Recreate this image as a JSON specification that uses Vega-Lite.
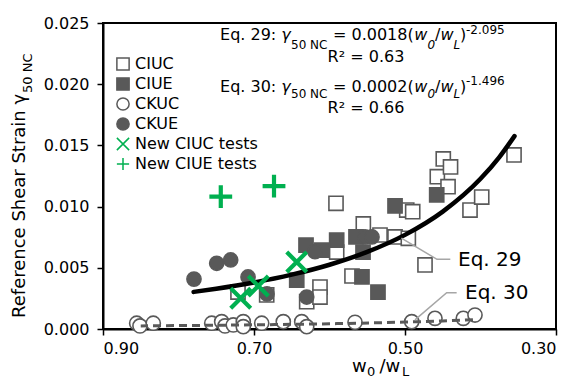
{
  "$schema": "https://vega.github.io/schema/vega-lite/v6.json",
  "width": 453,
  "height": 306,
  "autosize": {"type": "none"},
  "padding": {"left": 103, "top": 23, "right": 20, "bottom": 52},
  "background": "white",
  "config": {
    "font": "DejaVu Sans",
    "view": {"stroke": "black", "strokeWidth": 2},
    "axis": {
      "grid": false,
      "domainColor": "black",
      "domainWidth": 2,
      "tickColor": "black",
      "tickWidth": 1.5,
      "tickSize": 6,
      "labelFont": "DejaVu Sans",
      "labelFontSize": 16,
      "labelColor": "black",
      "title": null
    },
    "legend": {
      "labelFont": "DejaVu Sans",
      "labelFontSize": 16,
      "labelColor": "black"
    }
  },
  "datasets": {
    "pts": [
      {"series": "CIUC", "x": 0.7212, "y": 0.00302},
      {"series": "CIUC", "x": 0.6832, "y": 0.00278},
      {"series": "CIUC", "x": 0.6302, "y": 0.00223},
      {"series": "CIUC", "x": 0.6126, "y": 0.00343},
      {"series": "CIUC", "x": 0.6126, "y": 0.00261},
      {"series": "CIUC", "x": 0.5914, "y": 0.01027},
      {"series": "CIUC", "x": 0.5905, "y": 0.00629},
      {"series": "CIUC", "x": 0.5702, "y": 0.00433},
      {"series": "CIUC", "x": 0.5552, "y": 0.00858},
      {"series": "CIUC", "x": 0.5331, "y": 0.00768},
      {"series": "CIUC", "x": 0.5132, "y": 0.00752},
      {"series": "CIUC", "x": 0.4956, "y": 0.00741},
      {"series": "CIUC", "x": 0.4977, "y": 0.00972},
      {"series": "CIUC", "x": 0.4898, "y": 0.00958},
      {"series": "CIUC", "x": 0.4735, "y": 0.00523},
      {"series": "CIUC", "x": 0.4572, "y": 0.01244},
      {"series": "CIUC", "x": 0.4493, "y": 0.01389},
      {"series": "CIUC", "x": 0.4397, "y": 0.01324},
      {"series": "CIUC", "x": 0.443, "y": 0.01163},
      {"series": "CIUC", "x": 0.4139, "y": 0.00972},
      {"series": "CIUC", "x": 0.3984, "y": 0.01078},
      {"series": "CIUC", "x": 0.3556, "y": 0.01422},
      {"series": "CIUE", "x": 0.6434, "y": 0.0040},
      {"series": "CIUE", "x": 0.6311, "y": 0.00686},
      {"series": "CIUE", "x": 0.6103, "y": 0.00645},
      {"series": "CIUE", "x": 0.5905, "y": 0.00727},
      {"series": "CIUE", "x": 0.5649, "y": 0.00752},
      {"series": "CIUE", "x": 0.5556, "y": 0.00629},
      {"series": "CIUE", "x": 0.557, "y": 0.00425},
      {"series": "CIUE", "x": 0.5358, "y": 0.00302},
      {"series": "CIUE", "x": 0.5132, "y": 0.01005},
      {"series": "CIUE", "x": 0.458, "y": 0.01095},
      {"series": "CKUC", "x": 0.8554, "y": 0.00047},
      {"series": "CKUC", "x": 0.851, "y": 0.00025},
      {"series": "CKUC", "x": 0.8334, "y": 0.00047},
      {"series": "CKUC", "x": 0.756, "y": 0.00047},
      {"series": "CKUC", "x": 0.7428, "y": 0.0006},
      {"series": "CKUC", "x": 0.7384, "y": 0.00025},
      {"series": "CKUC", "x": 0.7274, "y": 0.00033},
      {"series": "CKUC", "x": 0.7142, "y": 0.0006},
      {"series": "CKUC", "x": 0.7142, "y": 0.00019},
      {"series": "CKUC", "x": 0.6898, "y": 0.00047},
      {"series": "CKUC", "x": 0.6612, "y": 0.0006},
      {"series": "CKUC", "x": 0.6368, "y": 0.0006},
      {"series": "CKUC", "x": 0.6302, "y": 0.00019},
      {"series": "CKUC", "x": 0.5662, "y": 0.00055},
      {"series": "CKUC", "x": 0.4911, "y": 0.0006},
      {"series": "CKUC", "x": 0.4603, "y": 0.00087},
      {"series": "CKUC", "x": 0.4228, "y": 0.00087},
      {"series": "CKUC", "x": 0.4073, "y": 0.00114},
      {"series": "CKUE", "x": 0.7795, "y": 0.00408},
      {"series": "CKUE", "x": 0.7494, "y": 0.00537},
      {"series": "CKUE", "x": 0.7309, "y": 0.00564},
      {"series": "CKUE", "x": 0.7079, "y": 0.00425},
      {"series": "CKUE", "x": 0.6828, "y": 0.00286},
      {"series": "CKUE", "x": 0.6302, "y": 0.00261},
      {"series": "CKUE", "x": 0.6192, "y": 0.00632},
      {"series": "CKUE", "x": 0.553, "y": 0.00752},
      {"series": "CKUE", "x": 0.5437, "y": 0.00752}
    ],
    "green": [
      {"series": "New CIUC tests", "x": 0.7176, "y": 0.00251},
      {"series": "New CIUC tests", "x": 0.6943, "y": 0.00351},
      {"series": "New CIUC tests", "x": 0.6434, "y": 0.00547},
      {"series": "New CIUE tests", "x": 0.744, "y": 0.01081},
      {"series": "New CIUE tests", "x": 0.6735, "y": 0.01168}
    ],
    "fit29": [
      {"x": 0.78, "y": 0.00303},
      {"x": 0.75, "y": 0.00329},
      {"x": 0.70, "y": 0.0038},
      {"x": 0.65, "y": 0.00444},
      {"x": 0.60, "y": 0.00525},
      {"x": 0.55, "y": 0.0063},
      {"x": 0.50, "y": 0.00769},
      {"x": 0.45, "y": 0.00959},
      {"x": 0.40, "y": 0.01227},
      {"x": 0.375, "y": 0.01405},
      {"x": 0.355, "y": 0.01576}
    ],
    "fit30": [
      {"x": 0.85, "y": 0.000255},
      {"x": 0.80, "y": 0.000279},
      {"x": 0.70, "y": 0.000341},
      {"x": 0.60, "y": 0.000429},
      {"x": 0.50, "y": 0.000564},
      {"x": 0.45, "y": 0.00066},
      {"x": 0.41, "y": 0.00076}
    ],
    "leaders": [
      {"k": "a", "o": 1, "x": 0.5048, "y": 0.00743},
      {"k": "a", "o": 2, "x": 0.4576, "y": 0.00569},
      {"k": "a", "o": 3, "x": 0.44, "y": 0.00569},
      {"k": "b", "o": 1, "x": 0.4868, "y": 0.00074},
      {"k": "b", "o": 2, "x": 0.4448, "y": 0.00297},
      {"k": "b", "o": 3, "x": 0.4316, "y": 0.00297}
    ],
    "mainText": [
      {"x": 0.745, "y": 0.02402, "t": "Eq. 29:"},
      {"x": 0.5954, "y": 0.02402, "t": "= 0.0018("},
      {"x": 0.4603, "y": 0.02402, "t": "/"},
      {"x": 0.4272, "y": 0.02402, "t": ")"},
      {"x": 0.745, "y": 0.01977, "t": "Eq. 30:"},
      {"x": 0.5954, "y": 0.01977, "t": "= 0.0002("},
      {"x": 0.4603, "y": 0.01977, "t": "/"},
      {"x": 0.4272, "y": 0.01977, "t": ")"}
    ],
    "mainItalic": [
      {"x": 0.6638, "y": 0.02402, "t": "γ"},
      {"x": 0.4877, "y": 0.02402, "t": "w"},
      {"x": 0.4531, "y": 0.02402, "t": "w"},
      {"x": 0.6638, "y": 0.01977, "t": "γ"},
      {"x": 0.4877, "y": 0.01977, "t": "w"},
      {"x": 0.4531, "y": 0.01977, "t": "w"}
    ],
    "smallText": [
      {"x": 0.651, "y": 0.0232, "t": "50 NC"},
      {"x": 0.4192, "y": 0.02443, "t": "-2.095"},
      {"x": 0.651, "y": 0.0192, "t": "50 NC"},
      {"x": 0.4192, "y": 0.02026, "t": "-1.496"}
    ],
    "smallItalic": [
      {"x": 0.4703, "y": 0.0232, "t": "0"},
      {"x": 0.4358, "y": 0.0232, "t": "L"},
      {"x": 0.4703, "y": 0.0192, "t": "0"},
      {"x": 0.4358, "y": 0.0192, "t": "L"}
    ],
    "r2": [
      {"x": 0.5517, "y": 0.02222, "t": "R² = 0.63"},
      {"x": 0.5517, "y": 0.01806, "t": "R² = 0.66"}
    ],
    "eqLabels": [
      {"x": 0.4298, "y": 0.00564, "t": "Eq. 29"},
      {"x": 0.4205, "y": 0.00294, "t": "Eq. 30"}
    ],
    "xTitleMain": [
      {"x": 0.5702, "y": -0.0031, "t": "w"},
      {"x": 0.5337, "y": -0.0031, "t": "/w"}
    ],
    "xTitleSub": [
      {"x": 0.5503, "y": -0.00351, "t": "0"},
      {"x": 0.504, "y": -0.00351, "t": "L"}
    ],
    "yTitleMain": [
      {"x": 1.0099, "y": 0.0009, "t": "Reference Shear Strain γ"}
    ],
    "yTitleSub": [
      {"x": 0.9993, "y": 0.01928, "t": "50 NC"}
    ]
  },
  "encoding": {
    "x": {
      "field": "x",
      "type": "quantitative",
      "scale": {"domain": [0.3, 0.9], "reverse": true, "nice": false, "zero": false},
      "axis": {"values": [0.3, 0.5, 0.7, 0.9], "format": ".2f", "labelPadding": 5}
    },
    "y": {
      "field": "y",
      "type": "quantitative",
      "scale": {"domain": [0, 0.025], "nice": false, "zero": false},
      "axis": {"values": [0, 0.005, 0.01, 0.015, 0.02, 0.025], "format": ".3f", "labelPadding": 8}
    }
  },
  "layer": [
    {
      "data": {"name": "pts"},
      "mark": {"type": "point", "opacity": 1, "size": 200, "strokeWidth": 1.6},
      "encoding": {
        "shape": {
          "field": "series", "type": "nominal",
          "scale": {
            "domain": ["CIUC", "CIUE", "CKUC", "CKUE", "New CIUC tests", "New CIUE tests"],
            "range": ["square", "square", "circle", "circle", "M-1,-1L1,1M-1,1L1,-1", "M-1,0L1,0M0,-1L0,1"]
          },
          "legend": {
            "title": null, "orient": "none", "legendX": 12, "legendY": 33,
            "symbolSize": 150, "rowPadding": 0, "labelOffset": 4, "padding": 0,
            "encode": {"symbols": {"update": {"strokeWidth": {"signal": "datum.value === 'New CIUC tests' || datum.value === 'New CIUE tests' ? 3.5 : 1.5"}}}}
          }
        },
        "fill": {
          "field": "series", "type": "nominal",
          "scale": {
            "domain": ["CIUC", "CIUE", "CKUC", "CKUE", "New CIUC tests", "New CIUE tests"],
            "range": ["white", "#595959", "white", "#595959", "transparent", "transparent"]
          },
          "legend": {
            "title": null, "orient": "none", "legendX": 12, "legendY": 33,
            "symbolSize": 150, "rowPadding": 0, "labelOffset": 4, "padding": 0,
            "encode": {"symbols": {"update": {"strokeWidth": {"signal": "datum.value === 'New CIUC tests' || datum.value === 'New CIUE tests' ? 3.5 : 1.5"}}}}
          }
        },
        "stroke": {
          "field": "series", "type": "nominal",
          "scale": {
            "domain": ["CIUC", "CIUE", "CKUC", "CKUE", "New CIUC tests", "New CIUE tests"],
            "range": ["#595959", "#595959", "#595959", "#595959", "#00b050", "#00b050"]
          },
          "legend": {
            "title": null, "orient": "none", "legendX": 12, "legendY": 33,
            "symbolSize": 150, "rowPadding": 0, "labelOffset": 4, "padding": 0,
            "encode": {"symbols": {"update": {"strokeWidth": {"signal": "datum.value === 'New CIUC tests' || datum.value === 'New CIUE tests' ? 3.5 : 1.5"}}}}
          }
        }
      }
    },
    {
      "data": {"name": "fit29"},
      "mark": {"type": "line", "color": "black", "strokeWidth": 4.5, "strokeCap": "round", "interpolate": "monotone"},
      "encoding": {"order": {"field": "x", "type": "quantitative"}}
    },
    {
      "data": {"name": "fit30"},
      "mark": {"type": "line", "color": "#595959", "strokeWidth": 3, "strokeDash": [8, 5], "interpolate": "monotone"},
      "encoding": {"order": {"field": "x", "type": "quantitative"}}
    },
    {
      "data": {"name": "green"},
      "mark": {"type": "point", "opacity": 1, "strokeWidth": 4.2},
      "encoding": {
        "size": {"field": "series", "type": "nominal", "scale": {"domain": ["New CIUC tests", "New CIUE tests"], "range": [400, 520]}, "legend": null},
        "shape": {"field": "series", "type": "nominal"},
        "fill": {"field": "series", "type": "nominal"},
        "stroke": {"field": "series", "type": "nominal"}
      }
    },
    {
      "data": {"name": "leaders"},
      "mark": {"type": "line", "color": "#a6a6a6", "strokeWidth": 1.5},
      "encoding": {"detail": {"field": "k"}, "order": {"field": "o", "type": "quantitative"}}
    },
    {
      "data": {"name": "mainText"},
      "mark": {"type": "text", "align": "left", "baseline": "middle", "fontSize": 16, "color": "black"},
      "encoding": {"text": {"field": "t"}}
    },
    {
      "data": {"name": "mainItalic"},
      "mark": {"type": "text", "align": "left", "baseline": "middle", "fontSize": 16, "fontStyle": "italic", "color": "black"},
      "encoding": {"text": {"field": "t"}}
    },
    {
      "data": {"name": "smallText"},
      "mark": {"type": "text", "align": "left", "baseline": "middle", "fontSize": 12, "color": "black"},
      "encoding": {"text": {"field": "t"}}
    },
    {
      "data": {"name": "smallItalic"},
      "mark": {"type": "text", "align": "left", "baseline": "middle", "fontSize": 12, "fontStyle": "italic", "color": "black"},
      "encoding": {"text": {"field": "t"}}
    },
    {
      "data": {"name": "r2"},
      "mark": {"type": "text", "align": "center", "baseline": "middle", "fontSize": 16, "color": "black"},
      "encoding": {"text": {"field": "t"}}
    },
    {
      "data": {"name": "eqLabels"},
      "mark": {"type": "text", "align": "left", "baseline": "middle", "fontSize": 20, "color": "black"},
      "encoding": {"text": {"field": "t"}}
    },
    {
      "data": {"name": "xTitleMain"},
      "mark": {"type": "text", "align": "left", "baseline": "middle", "fontSize": 18, "color": "black"},
      "encoding": {"text": {"field": "t"}}
    },
    {
      "data": {"name": "xTitleSub"},
      "mark": {"type": "text", "align": "left", "baseline": "middle", "fontSize": 13, "color": "black"},
      "encoding": {"text": {"field": "t"}}
    },
    {
      "data": {"name": "yTitleMain"},
      "mark": {"type": "text", "align": "left", "baseline": "middle", "fontSize": 18, "angle": 270, "color": "black"},
      "encoding": {"text": {"field": "t"}}
    },
    {
      "data": {"name": "yTitleSub"},
      "mark": {"type": "text", "align": "left", "baseline": "middle", "fontSize": 13, "angle": 270, "color": "black"},
      "encoding": {"text": {"field": "t"}}
    }
  ]
}
